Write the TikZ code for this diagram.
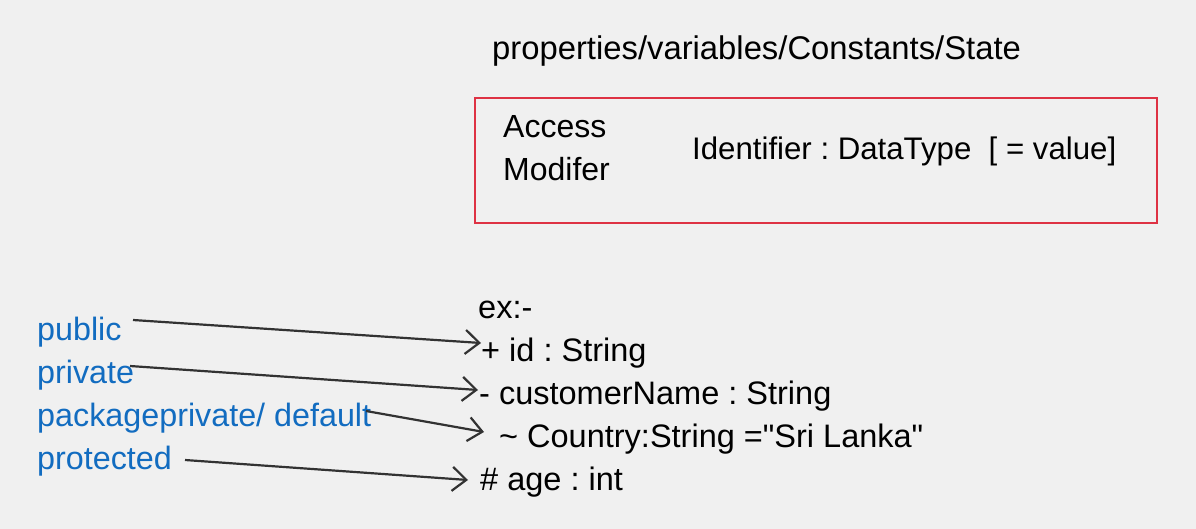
\documentclass[tikz,border=0pt]{standalone}
\usepackage{fontspec}
\setmainfont{Liberation Sans}[Ligatures=TeXOff]
\usetikzlibrary{arrows.meta}
\definecolor{bg}{RGB}{240,240,240}
\definecolor{amblue}{RGB}{18,108,192}
\definecolor{boxred}{RGB}{222,50,68}
\definecolor{arrowgray}{RGB}{50,50,50}
\frenchspacing
\tikzset{
  txt/.style={anchor=base west, inner sep=0pt, font=\fontsize{32.5}{38}\selectfont, text=black},
  mod/.style={txt, text=amblue, font=\fontsize{32.3}{38}\selectfont},
  conn/.style={draw=arrowgray, line width=2.2pt, -{Straight Barb[length=14pt,width=24pt,line width=2.2pt]}},
}
\begin{document}
\begin{tikzpicture}[x=1pt,y=-1pt]
\fill[bg] (0,0) rectangle (1196,529);
\useasboundingbox (0,0) rectangle (1196,529);
% title and box
\node[txt, font=\fontsize{32.8}{38}\selectfont] (title) at (492,60) {properties/variables/Constants/State};
\draw[boxred, line width=2.2pt] (475,98) rectangle (1157,223);
\node[txt, font=\fontsize{32}{38}\selectfont] (access) at (503,138) {Access};
\node[txt, font=\fontsize{32}{38}\selectfont] (modifer) at (503,181) {Modifer};
\node[txt, font=\fontsize{31.2}{38}\selectfont] (ident) at (692,160) {Identifier : DataType\ \ [ = value]};
% example list
\node[txt] (ex) at (478,318) {ex:-};
\node[txt] (id) at (481,361) {+ id : String};
\node[txt] (cust) at (479,404) {- customerName : String};
\node[txt] (country) at (499,447) {{\char126} Country:String ="Sri Lanka"};
\node[txt] (age) at (480,490) {\# age : int};
% modifiers
\node[mod] (public) at (37,340) {public};
\node[mod] (private) at (37,383) {private};
\node[mod] (pkg) at (37,426) {packageprivate/ default};
\node[mod] (protected) at (37,469) {protected};
% arrow endpoints
\coordinate (s1) at (133,320); \coordinate (e1) at (481,343);
\coordinate (s2) at (130,366); \coordinate (e2) at (478,390);
\coordinate (s3) at (366,411); \coordinate (e3) at (484,432);
\coordinate (s4) at (185,460); \coordinate (e4) at (468,480);
\draw[conn] (s1) -- (e1);
\draw[conn] (s2) -- (e2);
\draw[conn] (s3) -- (e3);
\draw[conn] (s4) -- (e4);
\end{tikzpicture}
\end{document}
